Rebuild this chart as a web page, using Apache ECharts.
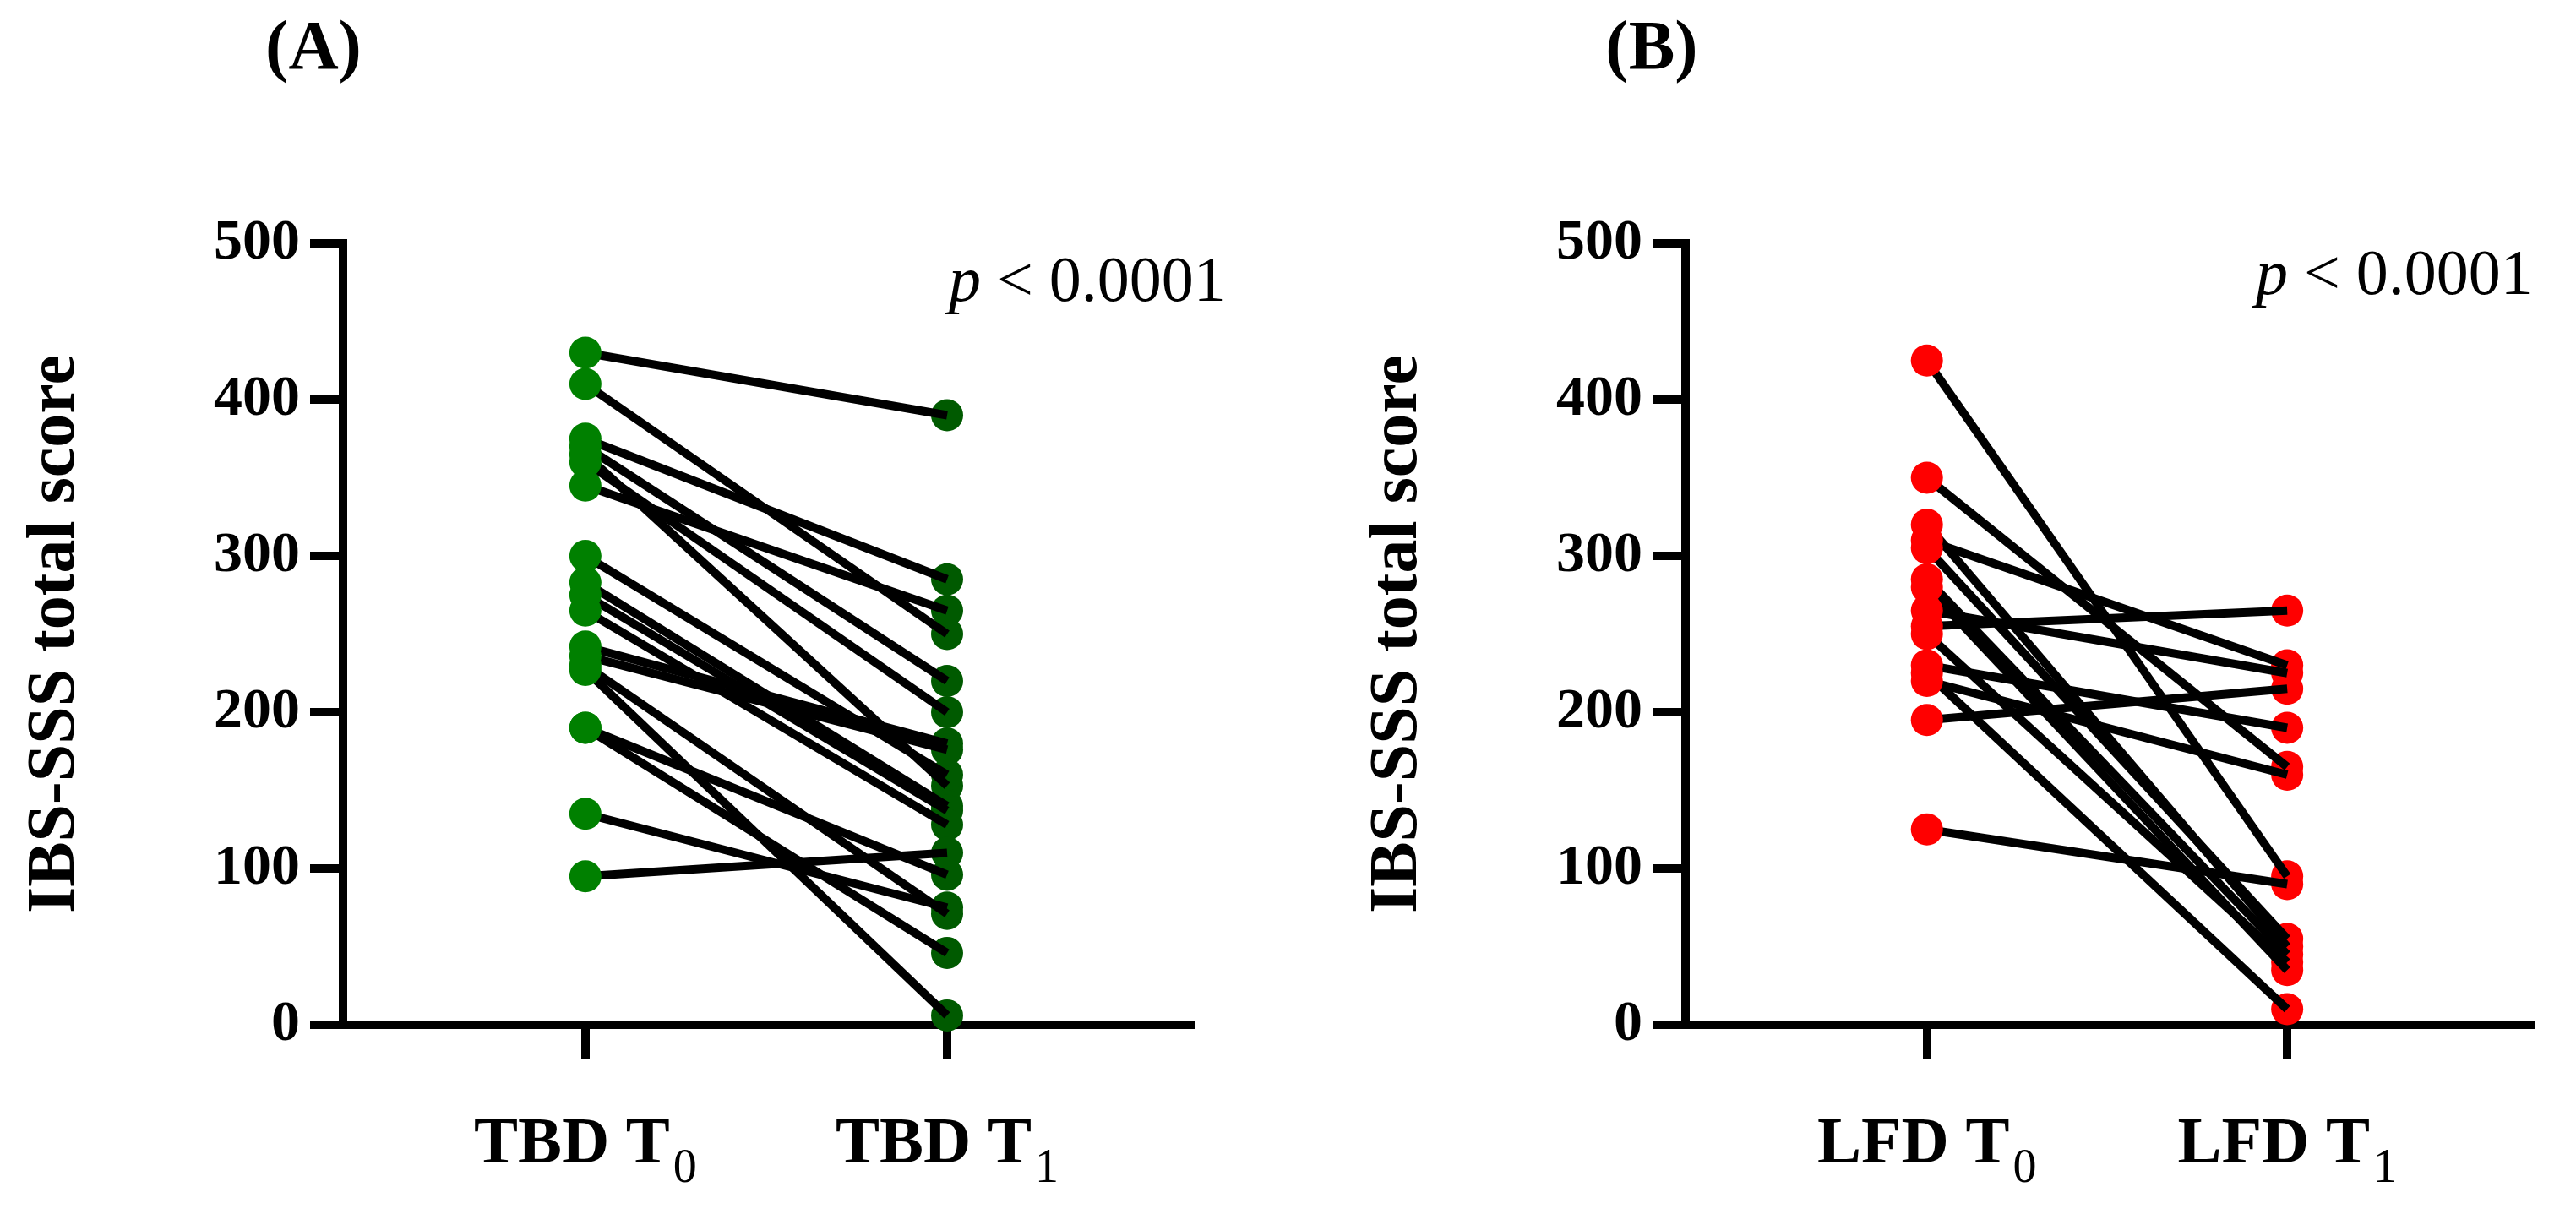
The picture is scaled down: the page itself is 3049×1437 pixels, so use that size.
<!DOCTYPE html>
<html>
<head>
<meta charset="utf-8">
<script src="https://cdn.jsdelivr.net/npm/echarts@6/dist/echarts.min.js"></script>
<style>
  html, body { margin: 0; padding: 0; background: #fff; }
  #chart { width: 3049px; height: 1437px; }
</style>
</head>
<body>
<div id="chart"></div>
<script>
// ---- data ----
const panelTitles = ['(A)', '(B)'];
const yAxisTitle = 'IBS-SSS total score';
const yTicks = [0, 100, 200, 300, 400, 500];
const pText = ['p', ' < 0.0001'];
const labelsA = [['TBD T', '0'], ['TBD T', '1']];
const labelsB = [['LFD T', '0'], ['LFD T', '1']];
const tbdT0 = [430, 410, 375, 370, 365, 360, 345, 300, 283, 275, 265, 242, 236, 230, 227, 190, 190, 135, 95];
const tbdT1 = [390, 250, 285, 220, 153, 200, 265, 160, 140, 137, 128, 180, 176, 71, 6, 96, 46, 75, 110];
const lfdT0 = [425, 350, 320, 310, 305, 285, 280, 265, 255, 250, 230, 225, 220, 195, 125];
const lfdT1 = [95, 165, 50, 230, 55, 45, 35, 225, 265, 40, 190, 10, 160, 215, 90];

// ---- styles ----
const FONT = '"Liberation Serif", "Times New Roman", serif';
const panels = [
  { labels: labelsA, t0: tbdT0, t1: tbdT1, c0: '#008000', c1: '#005a00',
    grid: { left: 406, top: 288, width: 1004, height: 925 },
    title: { x: 371, y: 60 }, p: { x: 1123, y: 336 } },
  { labels: labelsB, t0: lfdT0, t1: lfdT1, c0: '#ff0000', c1: '#ff0000',
    grid: { left: 1995, top: 288, width: 1000, height: 925 },
    title: { x: 1955, y: 60 }, p: { x: 2670, y: 328 } }
];

const grids = [], xAxes = [], yAxes = [], series = [], graphics = [];
panels.forEach((P, i) => {
  grids.push(P.grid);
  xAxes.push({
    type: 'value', gridIndex: i, min: -0.67, max: 1.675,
    splitLine: { show: false },
    axisLine: { show: true, onZero: false, lineStyle: { color: '#000', width: 10, cap: 'square' } },
    axisTick: { show: true, customValues: [0, 1], length: 40, lineStyle: { color: '#000', width: 10 } },
    axisLabel: {
      customValues: [0, 1], margin: 104,
      formatter: v => { const l = P.labels[Math.round(v)]; return l ? '{a|' + l[0] + '}{s|' + l[1] + '}' : ''; },
      rich: {
        a: { fontSize: 78, fontWeight: 'bold', fontFamily: FONT, color: '#000', lineHeight: 80, verticalAlign: 'top' },
        s: { fontSize: 56, fontWeight: 'normal', fontFamily: FONT, color: '#000', lineHeight: 56, verticalAlign: 'top', padding: [39, 0, 0, 4] }
      }
    }
  });
  yAxes.push({
    type: 'value', gridIndex: i, min: yTicks[0], max: yTicks[yTicks.length - 1], interval: 100,
    splitLine: { show: false },
    axisLine: { show: true, onZero: false, lineStyle: { color: '#000', width: 10, cap: 'square' } },
    axisTick: { show: true, length: 39, lineStyle: { color: '#000', width: 10 } },
    axisLabel: { fontSize: 68, fontWeight: 'bold', fontFamily: FONT, color: '#000', margin: 51 },
    name: yAxisTitle, nameLocation: 'middle', nameRotate: 90, nameGap: 300,
    nameTextStyle: { fontSize: 80, fontWeight: 'bold', fontFamily: FONT, color: '#000' }
  });
  // T1 markers (under the lines)
  series.push({
    type: 'scatter', xAxisIndex: i, yAxisIndex: i, z: 2, silent: true,
    symbol: 'circle', symbolSize: 38, itemStyle: { color: P.c1, opacity: 1 },
    data: P.t1.map(v => [1, v])
  });
  // connecting lines per subject
  P.t0.forEach((v0, k) => {
    series.push({
      type: 'line', xAxisIndex: i, yAxisIndex: i, z: 3, silent: true,
      symbol: 'none', lineStyle: { color: '#000', width: 10, cap: 'butt' },
      data: [[0, v0], [1, P.t1[k]]]
    });
  });
  // T0 markers (over the lines)
  series.push({
    type: 'scatter', xAxisIndex: i, yAxisIndex: i, z: 4, silent: true,
    symbol: 'circle', symbolSize: 38, itemStyle: { color: P.c0, opacity: 1 },
    data: P.t0.map(v => [0, v])
  });
  graphics.push({
    type: 'text', x: P.title.x, y: P.title.y, silent: true,
    style: { text: panelTitles[i], fontSize: 82, fontWeight: 'bold', fontFamily: FONT, fill: '#000', align: 'center', verticalAlign: 'middle' }
  });
  graphics.push({
    type: 'text', x: P.p.x, y: P.p.y, silent: true,
    style: {
      text: '{i|' + pText[0] + '}{n|' + pText[1] + '}',
      fontSize: 76, fontFamily: FONT, fill: '#000', align: 'left', verticalAlign: 'middle',
      rich: {
        i: { fontSize: 76, fontFamily: FONT, fontStyle: 'italic', fill: '#000' },
        n: { fontSize: 76, fontFamily: FONT, fill: '#000' }
      }
    }
  });
});

const chart = echarts.init(document.getElementById('chart'), null, { renderer: 'canvas' });
chart.setOption({
  animation: false,
  backgroundColor: '#fff',
  grid: grids, xAxis: xAxes, yAxis: yAxes, series: series, graphic: graphics
});
</script>
</body>
</html>
